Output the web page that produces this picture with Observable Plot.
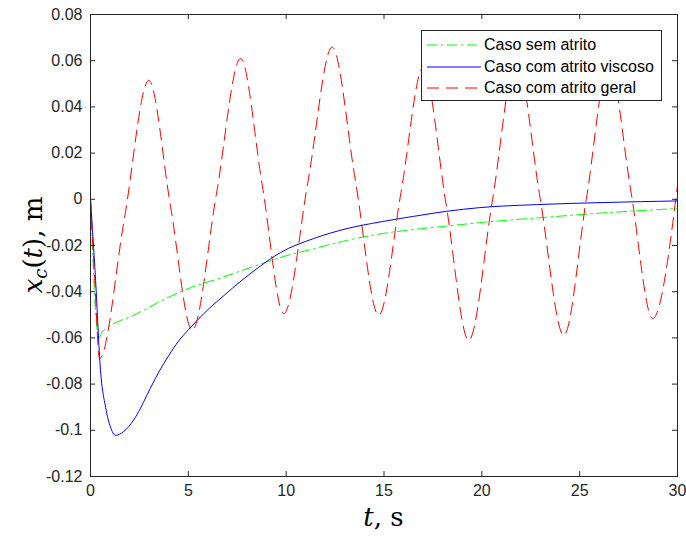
<!DOCTYPE html>
<html><head><meta charset="utf-8">
<script src="https://cdn.jsdelivr.net/npm/d3@7"></script>
<script src="https://cdn.jsdelivr.net/npm/@observablehq/plot@0.6"></script>
<style>
body{margin:0;background:#fff;}
#wrap{position:relative;width:686px;height:538px;}
#legend{position:absolute;left:421px;top:30px;width:239px;height:69px;border:1px solid #262626;background:#fff;font:16px "Liberation Sans",Arial,sans-serif;color:#000;}
.row{position:absolute;left:0;height:22px;line-height:22px;white-space:nowrap;}
.row svg{position:absolute;left:4px;top:0;}
.row span{position:absolute;left:62px;top:0;}
</style></head><body><div id="wrap"></div>
<script>
// Series names, colours and dash styles
const seriesNames = ["Caso sem atrito", "Caso com atrito viscoso", "Caso com atrito geral"];
const seriesColors = ["#00ff00", "#0000ff", "#ff0000"];
const seriesDash = ["10,4,2,4", null, "12,7"];

// Caso sem atrito (green)
const semT = [0, 0.42, 0.6, 0.85, 1.4, 2.04, 2.55, 3.6, 4.77, 6.8, 8.6, 9.7, 11.4, 13.1, 14.8, 16.5, 18.2, 19.9, 22.8, 26.2, 30];
const semX = [0, -0.0600, -0.0574, -0.0555, -0.0530, -0.0508, -0.0487, -0.0440, -0.0394, -0.0336, -0.0283, -0.0252, -0.0214, -0.0178, -0.0150, -0.0131, -0.0116, -0.0101, -0.0081, -0.0059, -0.0040];

// Caso com atrito viscoso (blue)
const viscT = [0, 0.26, 0.51, 0.77, 1.02, 1.28, 1.7, 2.21, 2.55, 2.9, 3.49, 4.0, 4.5, 5.0, 5.45, 6.1, 6.8, 7.7, 8.6, 9.7, 11.4, 13.1, 14.8, 16.5, 18.2, 19.9, 22.8, 26.2, 30];
const viscX = [0, -0.035, -0.074, -0.090, -0.0986, -0.1022, -0.1005, -0.0955, -0.0905, -0.0845, -0.0748, -0.0676, -0.0614, -0.0565, -0.0524, -0.0470, -0.0418, -0.0353, -0.0294, -0.0231, -0.0170, -0.0127, -0.0098, -0.0074, -0.0052, -0.0036, -0.0023, -0.0014, -0.0007];

// Caso com atrito geral (red)
const geralT = [0, 0.22, 0.46, 1.72, 2.98, 4.09, 5.2, 6.43, 7.67, 8.78, 9.88, 11.12, 12.35, 13.54, 14.73, 15.87, 17.0, 18.17, 19.33, 20.55, 21.76, 22.97, 24.19, 25.34, 26.49, 27.61, 28.73, 30];
const geralX = [0, -0.035, -0.069, -0.009, 0.0515, -0.003, -0.0567, 0.002, 0.061, 0.006, -0.0495, 0.008, 0.0659, 0.008, -0.0502, 0.003, 0.057, -0.002, -0.061, 0.0, 0.061, 0.001, -0.0589, 0.0, 0.059, 0.004, -0.0516, 0.006];

// Ticks
const xTicks = [0, 5, 10, 15, 20, 25, 30];
const yTicks = [-0.12, -0.1, -0.08, -0.06, -0.04, -0.02, 0, 0.02, 0.04, 0.06, 0.08];

const toRows = (ts, xs) => ts.map((t, i) => ({t, v: xs[i]}));
const series = [toRows(semT, semX), toRows(viscT, viscX), toRows(geralT, geralX)];

const W = 686, H = 538, mL = 90, mR = 9, mT = 14, mB = 62;
const pw = W - mL - mR, ph = H - mT - mB;
const tickLen = 5;
const axisColor = "#262626";

const fmtY = d => d === 0 ? "0" : String(+d.toFixed(2));

const plot = Plot.plot({
  width: W, height: H,
  marginLeft: mL, marginRight: mR, marginTop: mT, marginBottom: mB,
  x: {domain: [0, 30]},
  y: {domain: [-0.12, 0.08]},
  style: {fontFamily: '"Liberation Sans", Arial, sans-serif', fontSize: "16px", color: axisColor, background: "#fff", overflow: "visible"},
  marks: [
    ...series.map((s, i) => Plot.line(s, {
      x: "t", y: "v", stroke: seriesColors[i], strokeWidth: 1,
      strokeDasharray: seriesDash[i] || undefined, curve: "monotone-x", clip: true
    })),
    // inward ticks on all four sides
    Plot.ruleX(xTicks, {x: d => d, insetTop: ph - tickLen, stroke: axisColor, strokeWidth: 1}),
    Plot.ruleX(xTicks, {x: d => d, insetBottom: ph - tickLen, stroke: axisColor, strokeWidth: 1}),
    Plot.ruleY(yTicks, {y: d => d, insetRight: pw - tickLen, stroke: axisColor, strokeWidth: 1}),
    Plot.ruleY(yTicks, {y: d => d, insetLeft: pw - tickLen, stroke: axisColor, strokeWidth: 1}),
    Plot.frame({stroke: axisColor, strokeWidth: 1}),
    Plot.axisX(xTicks, {anchor: "bottom", tickSize: 0, tickPadding: 8, label: null, tickFormat: d => String(d), fill: axisColor}),
    Plot.axisY(yTicks, {anchor: "left", tickSize: 0, tickPadding: 8, label: null, tickFormat: fmtY, fill: axisColor})
  ]
});
document.getElementById("wrap").appendChild(plot);

// Axis labels (LaTeX style)
const svg = d3.select(plot);
const xl = svg.append("text")
  .attr("x", mL + pw / 2).attr("y", 526)
  .attr("text-anchor", "middle")
  .style("font-family", '"DejaVu Serif", serif').style("font-size", "26px").attr("fill", "#000");
xl.append("tspan").style("font-style", "italic").text("t");
xl.append("tspan").text(", s");

const yl = svg.append("text")
  .attr("transform", `translate(42,${mT + ph / 2}) rotate(-90)`)
  .attr("text-anchor", "middle")
  .style("font-family", '"DejaVu Serif", serif').style("font-size", "26px").attr("fill", "#000");
yl.append("tspan").style("font-style", "italic").text("x");
yl.append("tspan").style("font-style", "italic").style("font-size", "18px").attr("dy", "5").text("c");
yl.append("tspan").attr("dy", "-5").text("(");
yl.append("tspan").style("font-style", "italic").text("t");
yl.append("tspan").text("), m");

// Legend
const legend = document.createElement("div");
legend.id = "legend";
seriesNames.forEach((name, i) => {
  const row = document.createElement("div");
  row.className = "row";
  row.style.top = (3 + i * 21.7) + "px";
  row.style.width = "239px";
  const ns = "http://www.w3.org/2000/svg";
  const s = document.createElementNS(ns, "svg");
  s.setAttribute("width", "56"); s.setAttribute("height", "22");
  const ln = document.createElementNS(ns, "line");
  ln.setAttribute("x1", "1"); ln.setAttribute("x2", "55");
  ln.setAttribute("y1", "11"); ln.setAttribute("y2", "11");
  ln.setAttribute("stroke", seriesColors[i]); ln.setAttribute("stroke-width", "1");
  if (seriesDash[i]) ln.setAttribute("stroke-dasharray", seriesDash[i]);
  s.appendChild(ln);
  const sp = document.createElement("span");
  sp.textContent = name;
  row.appendChild(s); row.appendChild(sp);
  legend.appendChild(row);
});
document.getElementById("wrap").appendChild(legend);
</script>
</body></html>
